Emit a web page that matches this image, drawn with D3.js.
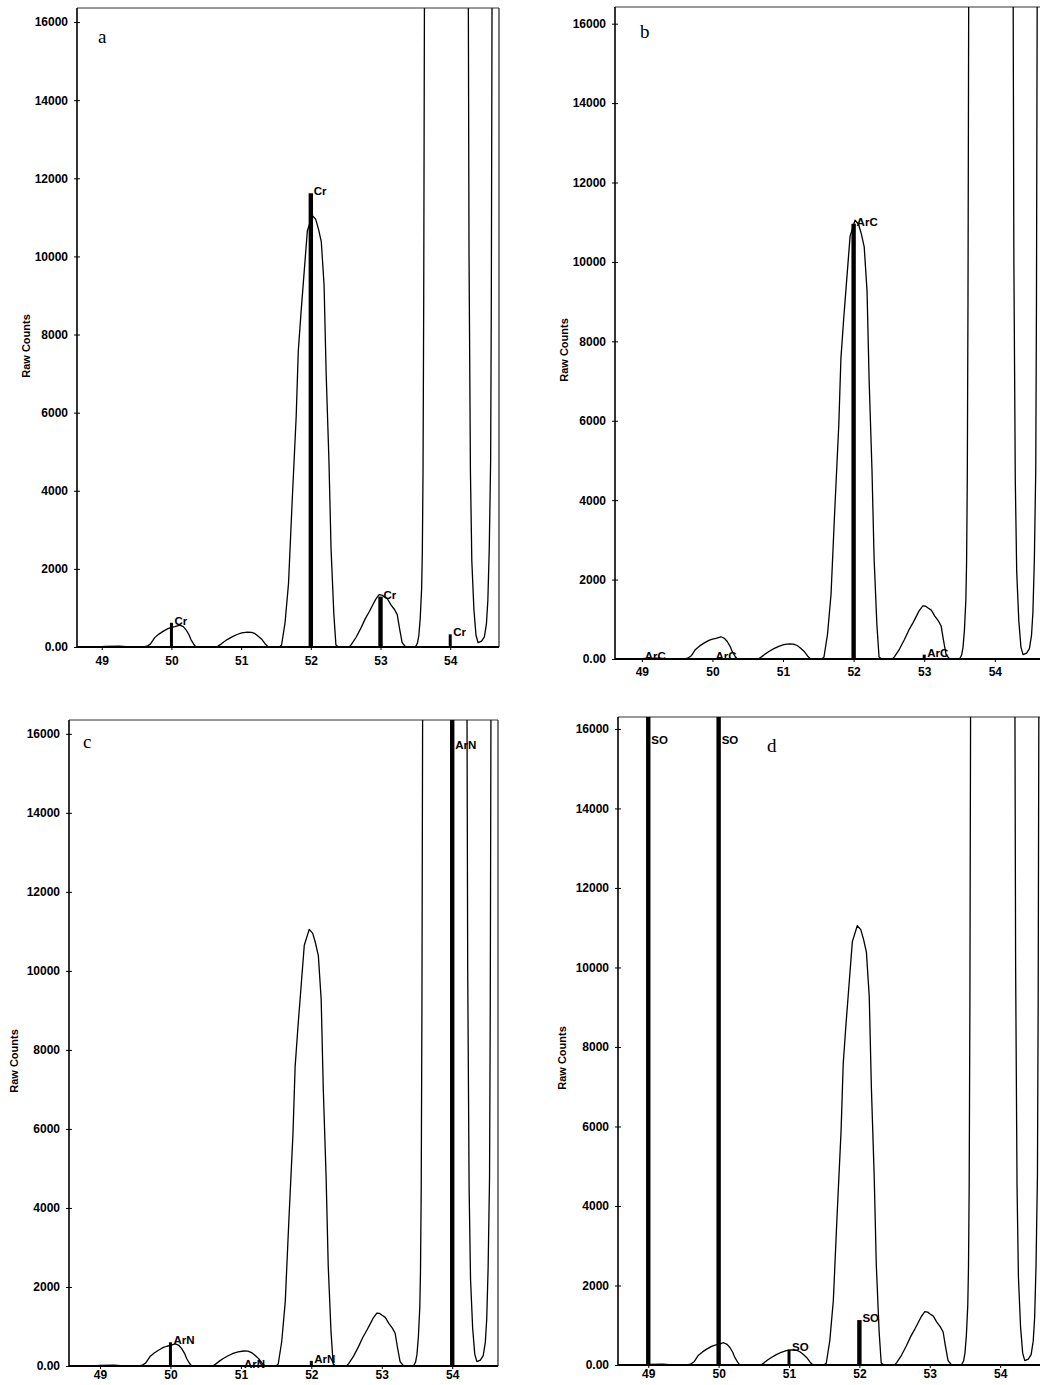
<!DOCTYPE html>
<html>
<head>
<meta charset="utf-8">
<script src="https://cdn.jsdelivr.net/npm/d3@7/dist/d3.min.js"></script>
<style>
  html, body { margin: 0; padding: 0; background: #fff; }
  svg { display: block; }
</style>
</head>
<body>
<svg id="chart" width="1040" height="1385"></svg>
<script>
// ---------------- DATA ----------------
const massTicks = [49, 50, 51, 52, 53, 54];
const countTicks = [0, 2000, 4000, 6000, 8000, 10000, 12000, 14000, 16000];
const countTickLabels = ["0.00", "2000", "4000", "6000", "8000", "10000", "12000", "14000", "16000"];

// measured spectrum (mass, raw counts); the peak near 54 is far off scale
const specMass = [
  48.60, 48.90, 49.00, 49.20, 49.35, 49.55, 49.60, 49.65, 49.71, 49.77, 49.83, 49.90, 49.95, 50.00,
  50.07, 50.12, 50.16, 50.20, 50.23, 50.27, 50.30, 50.60, 50.65, 50.70, 50.75, 50.82, 50.89, 50.96,
  51.04, 51.10, 51.15, 51.20, 51.25, 51.30, 51.34, 51.50, 51.53, 51.58, 51.63, 51.68, 51.74, 51.77,
  51.81, 51.84, 51.90, 51.97, 52.02, 52.06, 52.10, 52.14, 52.17, 52.21, 52.24, 52.28, 52.31, 52.35,
  52.50, 52.53, 52.60, 52.67, 52.73, 52.79, 52.84, 52.88, 52.93, 52.97, 53.00, 53.05, 53.10, 53.15,
  53.19, 53.22, 53.26, 53.31, 53.45, 53.48, 53.50, 53.52, 53.54, 53.55, 53.56, 53.57, 53.58, 53.60,
  53.65, 53.90, 54.15, 54.20, 54.21, 54.22, 54.24, 54.26, 54.29, 54.32, 54.35, 54.40, 54.44, 54.47,
  54.49, 54.51, 54.53, 54.54, 54.55, 54.57, 54.65, 54.80
];
const specCounts = [
  0, 0, 15, 20, 5, 0, 20, 80, 240, 330, 400, 470, 500, 520,
  560, 520, 440, 320, 190, 70, 0, 0, 60, 130, 190, 260, 320, 360,
  380, 375, 340, 270, 190, 70, 0, 0, 50, 620, 1630, 3640, 5900, 7570,
  8580, 9270, 10650, 11050, 10950, 10700, 10380, 9270, 7000, 4770, 2530, 850, 50, 0,
  0, 60, 250, 490, 720, 910, 1080, 1220, 1340, 1330, 1290, 1230, 1080, 960,
  830, 500, 110, 0, 0, 100, 300, 740, 1500, 2430, 4500, 9000, 16500, 30000,
  60000, 100000, 60000, 25000, 16500, 10000, 4500, 2200, 960, 300, 110, 150, 260, 600,
  1190, 2500, 4770, 9000, 16500, 30000, 60000, 100000
];

const panelLetters = ["a", "b", "c", "d"];
const panelIons = ["Cr", "ArC", "ArN", "SO"];
const massShift = [0.05, 0.05, 0, 0];   // mass calibration offset of the scan in each panel

// identified ion lines (mass, counts) for each panel
const barMassA = [50, 52, 53, 54];
const barCountA = [620, 11620, 1290, 325];
const barMassB = [49, 50, 52, 53];
const barCountB = [20, 20, 10960, 110];
const barMassC = [50, 51, 52, 54];
const barCountC = [600, 0, 130, 100000];
const barMassD = [49, 50, 51, 52];
const barCountD = [100000, 100000, 390, 1130];

const barMass = [barMassA, barMassB, barMassC, barMassD];
const barCount = [barCountA, barCountB, barCountC, barCountD];
const yTitle = "Raw Counts";

// ---------------- LAYOUT ----------------
const boxes = [
  { left: 77,  right: 499,  top: 8,   bottom: 647,  x0: 48.645, x1: 54.70, ymax: 16360, lx: 98,  ly: 43,  tx: 27,  ty: 346, xpad: 6 },
  { left: 615, right: 1046, top: 7,   bottom: 659,  x0: 48.62,  x1: 54.725, ymax: 16420, lx: 640, ly: 38, tx: 565, ty: 350, xpad: 5 },
  { left: 69,  right: 498,  top: 720, bottom: 1366, x0: 48.56,  x1: 54.65, ymax: 16350, lx: 83,  ly: 748, tx: 15,  ty: 1061, xpad: 1 },
  { left: 618, right: 1048, top: 717, bottom: 1365, x0: 48.57,  x1: 54.68, ymax: 16300, lx: 767, ly: 752, tx: 563, ty: 1058, xpad: 1 }
];

const svg = d3.select("#chart");
const defs = svg.append("defs");
const tickFont = "'Liberation Sans', Arial, Helvetica, sans-serif";

boxes.forEach((b, i) => {
  const x = d3.scaleLinear().domain([b.x0, b.x1]).range([b.left, b.right]);
  const y = d3.scaleLinear().domain([0, b.ymax]).range([b.bottom, b.top]);
  const g = svg.append("g");

  const clipId = "clip" + i;
  defs.append("clipPath").attr("id", clipId)
    .append("rect")
    .attr("x", b.left).attr("y", b.top)
    .attr("width", b.right - b.left).attr("height", b.bottom - b.top);

  // frame
  g.append("line").attr("x1", b.left).attr("x2", b.right).attr("y1", b.top).attr("y2", b.top)
    .attr("stroke", "#333").attr("stroke-width", 1);
  g.append("line").attr("x1", b.right).attr("x2", b.right).attr("y1", b.top).attr("y2", b.bottom)
    .attr("stroke", "#222").attr("stroke-width", 1.2);

  // spectrum
  const spec = specMass.map((m, k) => [m + massShift[i], specCounts[k]]);
  const line = d3.line().x(d => x(d[0])).y(d => y(d[1])).curve(d3.curveLinear);
  g.append("path")
    .attr("clip-path", `url(#${clipId})`)
    .attr("d", line(spec))
    .attr("fill", "none").attr("stroke", "#000").attr("stroke-width", 1.3)
    .attr("stroke-linejoin", "round");

  // ion lines
  const bars = barMass[i].map((m, k) => ({ m, c: barCount[i][k] }));
  g.append("g").attr("clip-path", `url(#${clipId})`)
    .selectAll("line").data(bars).join("line")
    .attr("x1", d => x(d.m)).attr("x2", d => x(d.m))
    .attr("y1", y(0)).attr("y2", d => y(d.c))
    .attr("stroke", "#000").attr("stroke-width", d => (d.c > 900 ? 4.4 : 3));

  g.append("g").selectAll("text").data(bars).join("text")
    .attr("x", d => x(d.m) + 3)
    .attr("y", d => y(Math.min(d.c, 15750)) + (d.c > 16000 ? 5 : 2))
    .attr("font-family", tickFont).attr("font-weight", "bold").attr("font-size", 11.5)
    .attr("fill", "#000")
    .text(panelIons[i]);

  // y axis
  const yAxis = d3.axisLeft(y).tickValues(countTicks).tickSize(0)
    .tickFormat((d, k) => countTickLabels[k]).tickPadding(9);
  const ya = g.append("g").attr("transform", `translate(${b.left},0)`).call(yAxis);
  ya.select(".domain").attr("stroke", "#000").attr("stroke-width", 1.6)
    .attr("d", `M0,${b.top}V${b.bottom}`);
  ya.selectAll(".tick text").attr("font-family", tickFont).attr("font-weight", "bold")
    .attr("font-size", 12).attr("fill", "#000");
  ya.selectAll(".tick").append("line").attr("x1", -3).attr("x2", 3).attr("stroke", "#000").attr("stroke-width", 1);

  // x axis
  const xAxis = d3.axisBottom(x).tickValues(massTicks).tickSize(3).tickPadding(b.xpad).tickFormat(d3.format("d"));
  const xa = g.append("g").attr("transform", `translate(0,${b.bottom})`).call(xAxis);
  xa.select(".domain").attr("stroke", "#000").attr("stroke-width", 1.8)
    .attr("d", `M${b.left},0H${b.right}`);
  xa.selectAll(".tick line").attr("stroke", "#000");
  xa.selectAll(".tick text").attr("font-family", tickFont).attr("font-weight", "bold")
    .attr("font-size", 12).attr("fill", "#000");

  // y title
  g.append("text")
    .attr("transform", `translate(${b.tx},${b.ty}) rotate(-90)`)
    .attr("text-anchor", "middle").attr("dominant-baseline", "middle")
    .attr("font-family", tickFont).attr("font-weight", "bold").attr("font-size", 11)
    .attr("fill", "#000").text(yTitle);

  // panel letter
  g.append("text").attr("x", b.lx).attr("y", b.ly)
    .attr("font-family", "'Liberation Serif', 'Times New Roman', serif").attr("font-size", 19)
    .attr("fill", "#000").text(panelLetters[i]);
});
</script>
</body>
</html>
